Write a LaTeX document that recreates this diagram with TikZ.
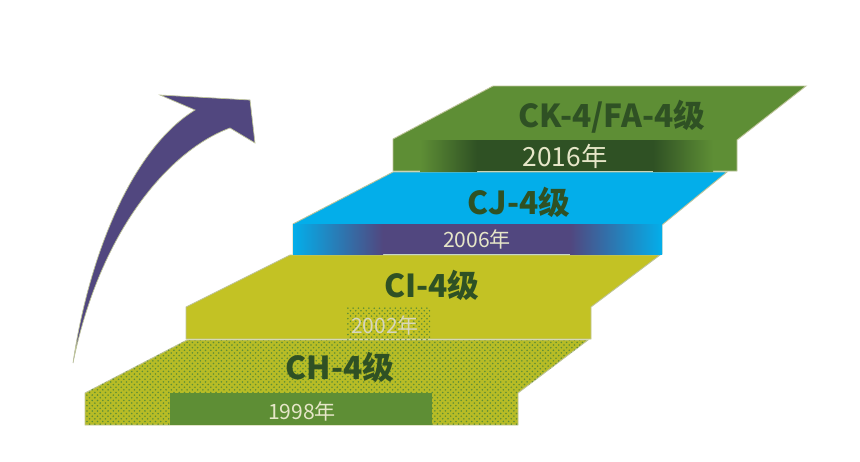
\documentclass[tikz,border=0pt]{standalone}
\usepackage{fontspec}
\newfontfamily\cjk{Noto Sans CJK SC}
\usepackage{xcolor}
\usepackage{tikz}
\usetikzlibrary{positioning,patterns}

\definecolor{leafgreen}{HTML}{5E8E35}
\definecolor{darkgreen}{HTML}{2F5124}
\definecolor{skyblue}{HTML}{03AEEA}
\definecolor{violet}{HTML}{51477F}
\definecolor{olive}{HTML}{C3C224}
\definecolor{cream}{HTML}{E6E6C8}
\definecolor{rim}{HTML}{BEC49A}

\begin{document}
\begin{tikzpicture}[x=0.02cm,y=-0.02cm,on grid,
  level/.style={font=\cjk\bfseries\fontsize{18}{20}\selectfont,text=darkgreen,inner sep=0pt},
  year/.style={font=\cjk\fontsize{12}{14}\selectfont,text=cream,inner sep=0pt},
  stair/.style={draw=rim,line width=0.5pt}]
  \useasboundingbox (0,0) rectangle (860,461);

  % rising arrow
  \fill[violet,draw=rim,line width=0.4pt] (73,363) .. controls (88,260) and (130,150) .. (195,110)
    -- (160,95) -- (250,100) -- (255,143) -- (230,128)
    .. controls (170,150) and (100,230) .. (73,363) -- cycle;

  % bottom step
  \filldraw[stair,fill=olive!88!leafgreen] (85,425) -- (85,393) -- (187,340) -- (588,340) -- (518,393) -- (518,425) -- cycle;
  \fill[pattern=crosshatch dots,pattern color=leafgreen] (85,425) -- (85,393) -- (187,340) -- (588,340) -- (518,393) -- (518,425) -- cycle;
  \fill[leafgreen] (170,393) rectangle (432,425);

  % second step
  \filldraw[stair,fill=olive] (186,339) -- (186,307) -- (290,255) -- (660,255) -- (591,307) -- (591,339) -- cycle;
  \fill[pattern=crosshatch dots,pattern color=leafgreen] (347,307) rectangle (430,339);

  % third step
  \filldraw[stair,fill=skyblue] (293,254) -- (293,224) -- (393,172) -- (727,172) -- (662,225) -- (662,254) -- cycle;
  \shade[left color=skyblue,right color=violet] (293,224) rectangle (383,254);
  \fill[violet] (383,224) rectangle (570,254);
  \shade[left color=violet,right color=skyblue] (570,224) rectangle (662,254);

  % top step
  \filldraw[stair,fill=leafgreen] (393,171) -- (393,139) -- (493,86) -- (806,86) -- (737,140) -- (737,171) -- cycle;
  \shade[left color=leafgreen,right color=darkgreen] (420,140) rectangle (477,171);
  \fill[darkgreen] (477,140) rectangle (653,171);
  \shade[left color=darkgreen,right color=leafgreen] (653,140) rectangle (713,171);

  \node[level] (ck) at (612,117)               {CK-4/FA-4级};
  \node[level] (cj) [below left=1.70cm and 1.86cm of ck] {CJ-4级};
  \node[level] (ci) [below left=1.66cm and 1.74cm of cj] {CI-4级};
  \node[level] (ch) [below left=1.64cm and 1.84cm of ci] {CH-4级};

  \node[year,font=\cjk\fontsize{15}{17}\selectfont] (y2016) [below left=0.78cm and 0.94cm of ck] {2016年};
  \node[year] (y2006) [below left=0.74cm and 0.84cm of cj] {2006年};
  \node[year,text=cream!85!gray] (y2002) [below left=0.80cm and 0.94cm of ci] {2002年};
  \node[year] (y1998) [below left=0.88cm and 0.76cm of ch] {1998年};
\end{tikzpicture}
\end{document}
